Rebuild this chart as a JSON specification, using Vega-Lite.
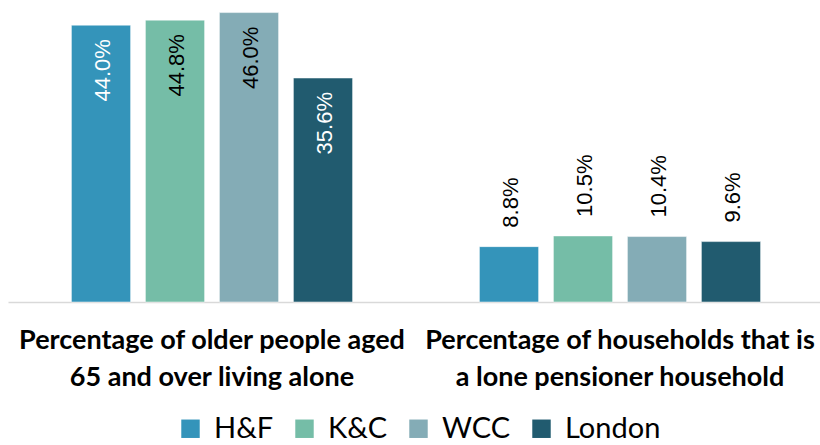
{
  "$schema": "https://vega.github.io/schema/vega-lite/v6.json",
  "width": 816,
  "height": 302,
  "autosize": {"type": "none"},
  "padding": {"left": 8, "top": 0, "right": 0, "bottom": 143},
  "background": "white",
  "config": {"view": {"stroke": null}},
  "data": {
    "values": [
      {"measure": "Percentage of older people aged 65 and over living alone", "area": "H&F", "value": 0.440},
      {"measure": "Percentage of older people aged 65 and over living alone", "area": "K&C", "value": 0.448},
      {"measure": "Percentage of older people aged 65 and over living alone", "area": "WCC", "value": 0.460},
      {"measure": "Percentage of older people aged 65 and over living alone", "area": "London", "value": 0.356},
      {"measure": "Percentage of households that is a lone pensioner household", "area": "H&F", "value": 0.088},
      {"measure": "Percentage of households that is a lone pensioner household", "area": "K&C", "value": 0.105},
      {"measure": "Percentage of households that is a lone pensioner household", "area": "WCC", "value": 0.104},
      {"measure": "Percentage of households that is a lone pensioner household", "area": "London", "value": 0.096}
    ]
  },
  "encoding": {
    "x": {
      "field": "measure",
      "type": "nominal",
      "sort": null,
      "scale": {"paddingInner": 0, "paddingOuter": 0},
      "axis": {
        "title": null,
        "labelAngle": 0,
        "labelFont": "Lato",
        "labelFontWeight": "bold",
        "labelFontSize": 27,
        "labelColor": "#000000",
        "labelLineHeight": 37,
        "labelPadding": 25,
        "labelLimit": 0,
        "labelBound": false,
        "labelOverlap": false,
        "ticks": false,
        "domainColor": "#d9d9d9",
        "domainWidth": 1.5,
        "labelExpr": "indexof(datum.value, 'older') >= 0 ? ['Percentage of older people aged', '65 and over living alone'] : ['Percentage of households that is', 'a lone pensioner household']"
      }
    },
    "xOffset": {
      "field": "area",
      "type": "nominal",
      "sort": ["H&F", "K&C", "WCC", "London"],
      "scale": {"paddingInner": 0.2, "paddingOuter": 0.857}
    },
    "y": {
      "field": "value",
      "type": "quantitative",
      "scale": {"domain": [0, 0.48], "nice": false, "zero": true},
      "axis": null
    }
  },
  "layer": [
    {
      "mark": {"type": "bar", "stroke": "#ffffff", "strokeWidth": 0.5},
      "encoding": {
        "color": {
          "field": "area",
          "type": "nominal",
          "sort": ["H&F", "K&C", "WCC", "London"],
          "scale": {"domain": ["H&F", "K&C", "WCC", "London"], "range": ["#3494ba", "#75bda7", "#84acb6", "#215b6f"]},
          "legend": {
            "title": null,
            "orient": "none",
            "direction": "horizontal",
            "legendX": 168,
            "legendY": 414,
            "symbolType": "square",
            "symbolSize": 340,
            "symbolStrokeWidth": 0,
            "labelFont": "Lato",
            "labelFontSize": 29,
            "labelColor": "#000000",
            "columnPadding": 16,
            "labelOffset": 9
          }
        }
      }
    },
    {
      "transform": [{"filter": "indexof(datum.measure, 'older') >= 0"}],
      "mark": {"type": "text", "angle": 270, "align": "right", "baseline": "middle", "dx": -14, "dy": 2, "font": "Liberation Sans", "fontSize": 22},
      "encoding": {
        "text": {"field": "value", "type": "quantitative", "format": ".1%"},
        "color": {"condition": {"test": "datum.area == 'H&F' || datum.area == 'London'", "value": "#ffffff"}, "value": "#000000"}
      }
    },
    {
      "transform": [{"filter": "indexof(datum.measure, 'older') < 0"}],
      "mark": {"type": "text", "angle": 270, "align": "left", "baseline": "middle", "dx": 19, "dy": 2, "font": "Liberation Sans", "fontSize": 22, "color": "#000000"},
      "encoding": {
        "text": {"field": "value", "type": "quantitative", "format": ".1%"}
      }
    }
  ]
}
